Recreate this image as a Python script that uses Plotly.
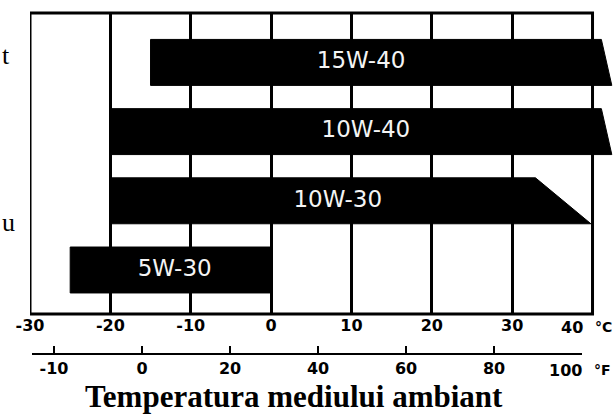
import plotly.graph_objects as go

# ---- data ----
grades = ["15W-40", "10W-40", "10W-30", "5W-30"]
low_c = [-15, -20, -20, -25]            # left end of each band (°C)
high_top_c = [41.1, 41.1, 32.9, 0]      # right end, top edge (°C)
high_bottom_c = [42.4, 42.4, 39.8, 0]   # right end, bottom edge (°C)
label_c = [11.2, 11.8, 8.3, -12.0]      # where the grade name sits (°C)

c_ticks = [-30, -20, -10, 0, 10, 20, 30, 40]
c_tick_labels = ["-30", "-20", "-10", "0", "10", "20", "30", "40"]
f_ticks = [-20, 0, 20, 40, 60, 80, 100]
f_tick_labels = ["-10", "0", "20", "40", "60", "80", "100"]

title_text = "Temperatura mediului ambiant"
side_fragments = ["t", "u"]

# ---- layout constants (pixels) ----
W, H = 614, 414
PX_PER_C = 8.036
half = 0.332

n = len(grades)
ypos = [n - 1 - i for i in range(n)]

fig = go.Figure()
for i in range(n):
    y = ypos[i]
    fig.add_trace(go.Scatter(
        x=[low_c[i], high_top_c[i], high_bottom_c[i], low_c[i], low_c[i]],
        y=[y + half, y + half, y - half, y - half, y + half],
        mode="lines", fill="toself", fillcolor="black",
        line=dict(color="black", width=1),
        hoverinfo="skip", showlegend=False,
    ))

fig.add_trace(go.Scatter(
    x=label_c, y=ypos, mode="text", text=grades,
    textposition="middle center",
    textfont=dict(family="DejaVu Sans", size=23, color="#f4f4f4"),
    hoverinfo="skip", showlegend=False,
))

# invisible trace so the Fahrenheit axis gets drawn
fig.add_trace(go.Scatter(
    x=f_ticks, y=[None] * len(f_ticks), xaxis="x2", yaxis="y",
    mode="markers", marker=dict(opacity=0), hoverinfo="skip", showlegend=False,
))

tick_font = dict(family="DejaVu Sans", size=16, color="black", weight="bold")
unit_font = dict(family="DejaVu Sans", size=14, color="black", weight="bold")

fig.update_layout(
    width=W, height=H, autosize=False,
    margin=dict(l=0, r=0, t=0, b=0, pad=0, autoexpand=False),
    paper_bgcolor="white", plot_bgcolor="rgba(0,0,0,0)",
    xaxis=dict(
        domain=[30 / W, 1], range=[-30, -30 + (W - 30) / PX_PER_C],
        tickvals=c_ticks[:-1], ticktext=c_tick_labels[:-1],
        showgrid=True, gridcolor="black", gridwidth=2.5,
        zeroline=False, showline=False, ticks="",
        tickfont=tick_font, anchor="y", automargin=False,
    ),
    yaxis=dict(
        domain=[1 - 314 / H, 1 - 13 / H], range=[-0.636, 3.714],
        showgrid=False, zeroline=False, showticklabels=False, ticks="",
        automargin=False,
    ),
    xaxis2=dict(
        domain=[32 / W, 582 / W], range=[-25, 100],
        anchor="free", position=1 - 354 / H,
        tickvals=f_ticks, ticktext=f_tick_labels[:-1] + [""],
        showgrid=False, zeroline=False,
        showline=True, linecolor="black", linewidth=2,
        ticks="inside", ticklen=7, tickwidth=2, tickcolor="black",
        tickfont=tick_font, automargin=False,
    ),
    showlegend=False,
)

# frame of the chart
fig.add_shape(type="rect", xref="x", yref="y domain",
              x0=c_ticks[0], x1=c_ticks[-1], y0=0, y1=1,
              line=dict(color="black", width=3), layer="above")

fig.add_annotation(text=c_tick_labels[-1], xref="x", x=c_ticks[-1], xanchor="right",
                   xshift=-8, yref="paper", y=1 - 327 / H, yanchor="middle",
                   showarrow=False, font=tick_font)
fig.add_annotation(text="°C", xref="x", x=c_ticks[-1], xanchor="left",
                   xshift=0, yref="paper", y=1 - 327 / H, yanchor="middle",
                   showarrow=False, font=unit_font)
fig.add_annotation(text=f_tick_labels[-1], xref="x2", x=f_ticks[-1], xanchor="right",
                   xshift=2, yref="paper", y=1 - 370 / H, yanchor="middle",
                   showarrow=False, font=tick_font)
fig.add_annotation(text="°F", xref="x2", x=f_ticks[-1], xanchor="left",
                   xshift=10, yref="paper", y=1 - 370 / H, yanchor="middle",
                   showarrow=False, font=unit_font)

fig.add_annotation(text=title_text, xref="paper", x=294 / W, xanchor="center",
                   yref="paper", y=1 - 396 / H, yanchor="middle", showarrow=False,
                   font=dict(family="Liberation Serif", size=31, color="black", weight="bold"))

for txt, ypx in zip(side_fragments, [55, 222]):
    fig.add_annotation(text=txt, xref="paper", x=0, xanchor="left",
                       yref="paper", y=1 - ypx / H, yanchor="middle", showarrow=False,
                       font=dict(family="Liberation Serif", size=26, color="black"))

fig.write_html("out.html", config={"displayModeBar": False},
               post_script="document.body.style.margin='0';")
